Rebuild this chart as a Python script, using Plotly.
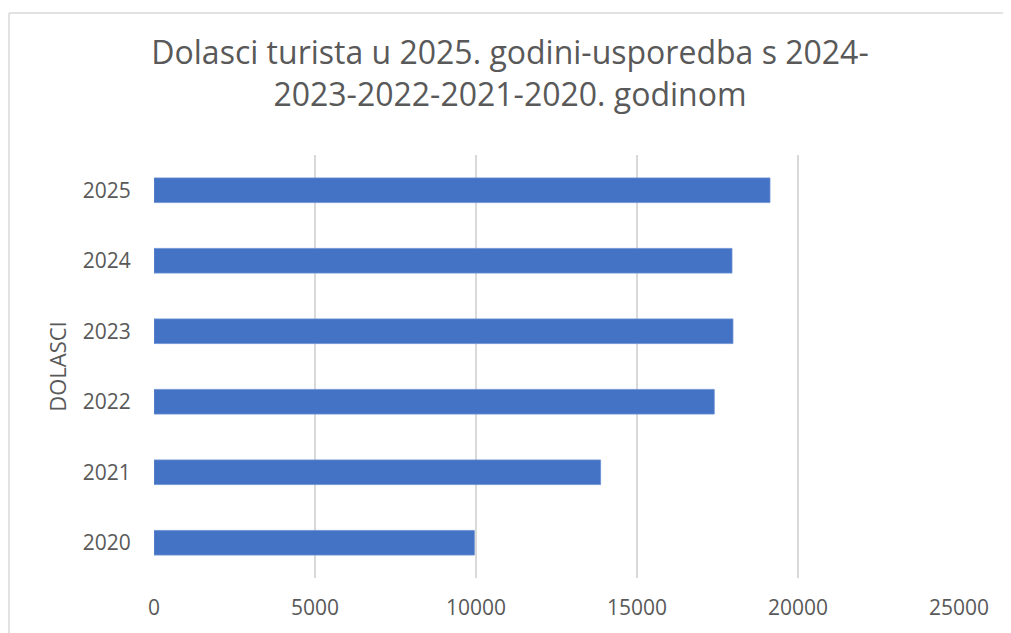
import plotly.graph_objects as go

years = ["2020", "2021", "2022", "2023", "2024", "2025"]
arrivals = [9950, 13870, 17400, 17980, 17950, 19130]
x_ticks = [0, 5000, 10000, 15000, 20000, 25000]

OFF = 8  # page body margin
W, H = 1011 - OFF, 633 - OFF
L, R, T, B = 154 - OFF, 959 - OFF, 155 - OFF, 587 - OFF

def px(x):
    return (x - OFF - L) / (R - L)

def py(y):
    return (B - (y - OFF)) / (B - T)

fig = go.Figure(go.Bar(
    y=years, x=arrivals, orientation="h",
    marker=dict(color="#4472c4", line=dict(color="#6a8fd3", width=0.8)),
    width=0.35,
))

grey = "#595959"
font = "Open Sans, DejaVu Sans, sans-serif"

fig.update_layout(
    width=W, height=H,
    margin=dict(l=L, r=W - R, t=T, b=H - B),
    paper_bgcolor="white", plot_bgcolor="white",
    showlegend=False,
    title=dict(
        text="Dolasci turista u 2025. godini-usporedba s 2024-<br>2023-2022-2021-2020. godinom",
        x=(510 - OFF) / W, xanchor="center",
        y=1 - 56 / H, yanchor="top",
        font=dict(family=font, size=32, color=grey),
    ),
    xaxis=dict(
        range=[0, 25000], tickvals=x_ticks, ticktext=[str(v) for v in x_ticks],
        showgrid=True, gridcolor="#d9d9d9", gridwidth=1.5,
        zeroline=False, showline=False,
        ticks="outside", ticklen=11, tickcolor="rgba(0,0,0,0)",
        tickfont=dict(family=font, size=21, color=grey),
        fixedrange=True,
    ),
    yaxis=dict(
        showgrid=False, zeroline=False, showline=False,
        ticks="outside", ticklen=18, tickcolor="rgba(0,0,0,0)",
        tickfont=dict(family=font, size=21, color=grey),
        title=dict(text="DOLASCI", font=dict(family=font, size=22, color=grey), standoff=10),
        fixedrange=True,
    ),
    bargap=0.65,
    shapes=[
        dict(type="line", xref="paper", yref="paper",
             x0=px(9), x1=px(1030), y0=py(10), y1=py(10),
             line=dict(color="#d9d9d9", width=1.5)),
        dict(type="line", xref="paper", yref="paper",
             x0=px(9), x1=px(9), y0=py(10), y1=py(650),
             line=dict(color="#d9d9d9", width=1.5)),
    ],
)

fig.write_html("out.html")
